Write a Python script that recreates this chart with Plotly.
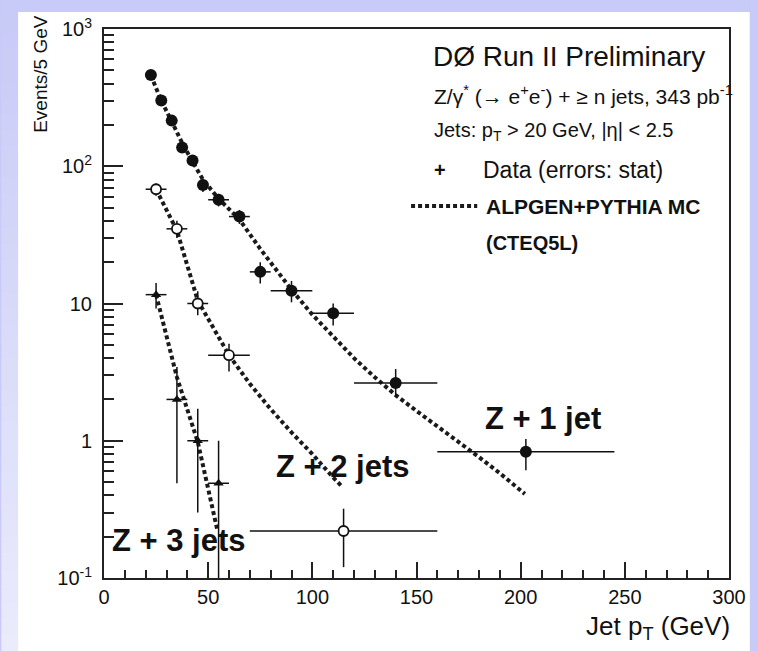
import plotly.graph_objects as go

# ---- data: Z + n jets, jet pT spectra (Events / 5 GeV) ----
# Z + >=1 jet
z1_x = [22.5, 27.5, 32.5, 37.5, 42.5, 47.5, 55, 65, 75, 90, 110, 140, 202.5]
z1_xerr = [2.5, 2.5, 2.5, 2.5, 2.5, 2.5, 5, 5, 5, 10, 10, 20, 42.5]
z1_y = [462, 301, 215, 137, 110, 73, 57, 43, 17, 12.4, 8.5, 2.63, 0.83]
z1_up = [20, 17, 14, 11, 10, 8, 6, 5, 3.0, 2.2, 1.5, 0.7, 0.2]
z1_dn = [20, 17, 14, 11, 10, 8, 6, 5, 3.0, 2.2, 1.6, 0.55, 0.22]

# Z + >=2 jets
z2_x = [25, 35, 45, 60, 115]
z2_xerr = [5, 5, 5, 10, 45]
z2_y = [68, 35, 10, 4.2, 0.22]
z2_up = [7, 5, 2.3, 0.9, 0.10]
z2_dn = [7, 5, 1.8, 1.0, 0.10]

# Z + >=3 jets
z3_x = [25, 35, 45, 55]
z3_xerr = [5, 5, 5, 5]
z3_y = [11.6, 2.0, 1.0, 0.49]
z3_up = [2.5, 1.45, 0.71, 0.51]
z3_dn = [2.4, 1.51, 0.70, 0.485]

# ALPGEN+PYTHIA MC predictions
mc1_x = [22.5, 27.5, 32.5, 37.5, 42.5, 47.5, 55, 65, 75, 85, 90, 100, 110, 120,
         130, 140, 150, 160, 170, 180, 190, 202]
mc1_y = [460, 300, 212, 148, 108, 80, 58, 41, 25, 16, 12.6, 8.3, 5.7, 4.0,
         2.9, 2.15, 1.65, 1.28, 1.0, 0.76, 0.58, 0.41]
mc2_x = [25, 35, 45, 55, 60, 70, 80, 90, 100, 110, 114.5]
mc2_y = [68, 34, 10.5, 5.8, 4.2, 2.6, 1.7, 1.15, 0.8, 0.54, 0.46]
mc3_x = [25, 35, 45, 54.5]
mc3_y = [11.6, 2.9, 0.98, 0.22]

y_tickvals = [0.1, 1, 10, 100, 1000]
y_ticktext = ["10<sup>-1</sup>", "1", "10", "10<sup>2</sup>", "10<sup>3</sup>"]
x_tickvals = [0, 50, 100, 150, 200, 250, 300]

# ---- geometry helpers (pixel -> paper) ----
W, H = 758, 651
L, R, T, B = 104, 737, 29, 578


def px(x):
    return (x - L) / (R - L)


def py(y):
    return (B - y) / (B - T)


FONT = "Liberation Sans, Arial, Helvetica, sans-serif"
INK = "#111111"

fig = go.Figure()

err_style = dict(type="data", symmetric=False, thickness=1.5, width=0, color=INK)

# MC curves (dotted)
for mx, my in [(mc1_x, mc1_y), (mc2_x, mc2_y), (mc3_x, mc3_y)]:
    fig.add_trace(go.Scatter(
        x=mx, y=my, mode="lines",
        line=dict(color="#1a1a1a", width=4, dash="4px,3px"),
        hoverinfo="skip", showlegend=False))

# data points with stat errors
fig.add_trace(go.Scatter(
    x=z1_x, y=z1_y, mode="markers",
    marker=dict(symbol="circle", size=12, color=INK),
    error_x=dict(type="data", array=z1_xerr, thickness=1.5, width=0, color=INK),
    error_y=dict(err_style, array=z1_up, arrayminus=z1_dn),
    showlegend=False))
fig.add_trace(go.Scatter(
    x=z2_x, y=z2_y, mode="markers",
    marker=dict(symbol="circle", size=10, color="white",
                line=dict(color=INK, width=1.8)),
    error_x=dict(type="data", array=z2_xerr, thickness=1.5, width=0, color=INK),
    error_y=dict(err_style, array=z2_up, arrayminus=z2_dn),
    showlegend=False))
fig.add_trace(go.Scatter(
    x=z3_x, y=z3_y, mode="markers",
    marker=dict(symbol="triangle-up", size=9, color=INK),
    error_x=dict(type="data", array=z3_xerr, thickness=1.5, width=0, color=INK),
    error_y=dict(err_style, array=z3_up, arrayminus=z3_dn),
    showlegend=False))

# ---- background: lavender gradient with white panel ----
shapes = []
top_c = (200, 202, 247)
bot_c = (234, 235, 251)
n_bands = 40
for i in range(n_bands):
    f = i / (n_bands - 1)
    c = tuple(round(top_c[k] + (bot_c[k] - top_c[k]) * f) for k in range(3))
    y0 = i * H / n_bands
    y1 = (i + 1) * H / n_bands + 1
    shapes.append(dict(type="rect", xref="paper", yref="paper",
                       x0=px(0), x1=px(W), y0=py(y1), y1=py(y0),
                       fillcolor="rgb(%d,%d,%d)" % c, line=dict(width=0),
                       layer="below"))
shapes.append(dict(type="rect", xref="paper", yref="paper",
                   x0=px(17), x1=px(W), y0=py(H), y1=py(12),
                   fillcolor="white", line=dict(width=0), layer="below"))
# legend sample for the MC line
shapes.append(dict(type="line", xref="paper", yref="paper",
                   x0=px(415), x1=px(482), y0=py(206), y1=py(206),
                   line=dict(color="#1a1a1a", width=4, dash="4px,3px"),
                   layer="above"))

ann = []


def text(s, x, y, size, anchor="left", bold=False, angle=0):
    if bold:
        s = "<b>" + s + "</b>"
    ann.append(dict(text=s, xref="paper", yref="paper", x=px(x), y=py(y),
                    xanchor=anchor, yanchor="middle", showarrow=False,
                    textangle=angle, borderpad=0,
                    font=dict(family=FONT, size=size, color=INK)))


text("DØ Run II Preliminary", 436, 57, 28)
text("Z/γ<sup>*</sup> (→ e<sup>+</sup>e<sup>-</sup>) + ≥ n jets, 343 pb<sup>-1</sup>",
     437, 95, 21)
text("Jets: p<sub>T</sub> &gt; 20 GeV, |η| &lt; 2.5", 437, 131, 20)
text("<b>+</b>", 444, 170, 20, anchor="center")
text("Data (errors: stat)", 487, 170, 23)
text("ALPGEN+PYTHIA MC", 490, 206, 21, bold=True)
text("(CTEQ5L)", 490, 243, 20, bold=True)
text("Z + 1 jet", 489, 418, 31, bold=True)
text("Z + 2 jets", 277, 466, 31, bold=True)
text("Z + 3 jets", 111, 540, 31, bold=True)
text("Events/5 GeV", 40, 74, 19, anchor="center", angle=-90)
text("Jet p<sub>T</sub> (GeV)", 739, 627, 26, anchor="right")

axis_common = dict(showline=True, linecolor="#222222", linewidth=2, mirror=True,
                   ticks="inside", tickcolor="#222222", tickwidth=1.5,
                   showgrid=False, zeroline=False,
                   tickfont=dict(family=FONT, size=20, color=INK))

y_minor = [m * 10 ** e for e in range(-1, 3) for m in range(2, 10)]

fig.update_layout(
    width=W, height=H, autosize=False,
    margin=dict(l=L, r=W - R, t=T, b=H - B, pad=0),
    paper_bgcolor="rgb(%d,%d,%d)" % top_c,
    plot_bgcolor="white",
    shapes=shapes, annotations=ann,
    xaxis=dict(axis_common, range=[0, 300], tickmode="array",
               tickvals=x_tickvals, ticklen=16,
               minor=dict(ticks="inside", dtick=10, tick0=0, ticklen=8,
                          tickwidth=1.5, tickcolor="#222222")),
    yaxis=dict(axis_common, type="log", range=[-1, 3], tickmode="array",
               tickvals=y_tickvals, ticktext=y_ticktext, ticklen=19,
               ticklabelstandoff=6,
               minor=dict(ticks="inside", tickmode="array", tickvals=y_minor,
                          ticklen=10, tickwidth=1.5, tickcolor="#222222")),
)

fig.write_html("out.html")
